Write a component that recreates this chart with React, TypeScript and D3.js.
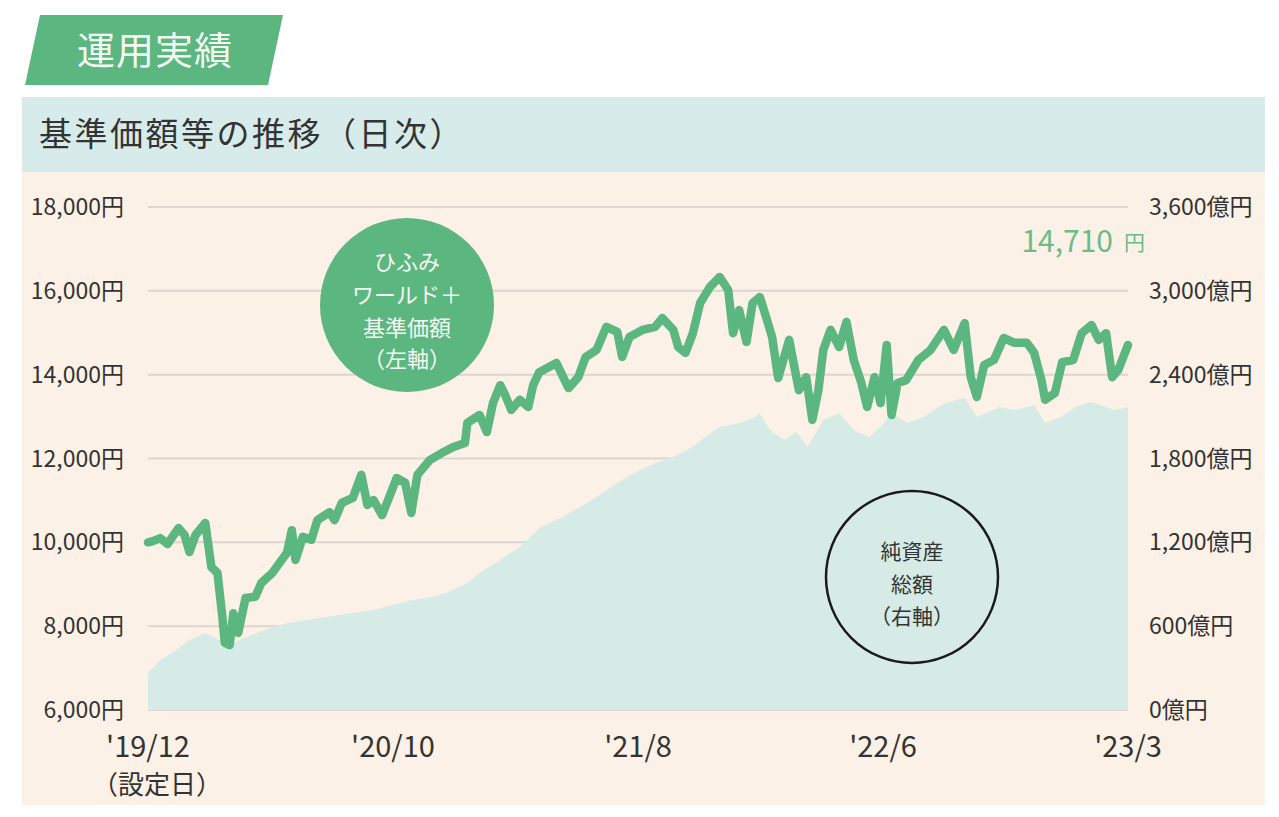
import React from "react";
import {scaleLinear, line, area} from "d3";

// 基準価額 (円) — trading-day index from 設定日
const navDays = [0, 4, 10, 16, 25, 30, 34, 39, 47, 52, 57, 61, 63, 67, 70, 74, 80, 88, 93, 102,
    108, 114, 118, 121, 127, 134, 139, 149, 153, 159, 168, 175, 180, 185, 192, 197, 204, 211, 216, 221,
    231, 241, 250, 260, 262, 272, 278, 283, 289, 293, 298, 305, 312, 316, 321, 335, 345, 353, 359, 368,
    376, 385, 389, 395, 406, 416, 422, 431, 435, 441, 447, 453, 461, 469, 476, 480, 485, 491, 496, 502,
    507, 512, 517, 526, 534, 540, 545, 550, 554, 560, 567, 573, 579, 585, 590, 596, 601, 606, 610, 615,
    622, 632, 642, 653, 661, 670, 675, 680, 686, 694, 702, 711, 721, 727, 733, 736, 744, 750, 759, 766,
    774, 780, 786, 791, 796, 804];
const navValues = [10000, 10030, 10100, 9960, 10340, 10175, 9770, 10175, 10460, 9410, 9270, 8220, 7600, 7550, 8310, 7840, 8670, 8700, 9030, 9270,
    9510, 9750, 10290, 9580, 10130, 10060, 10530, 10720, 10530, 10940, 11060, 11610, 10890, 11010, 10650, 11010, 11535, 11420, 10700, 11610,
    11960, 12130, 12270, 12370, 12850, 13040, 12630, 13320, 13750, 13515, 13160, 13400, 13230, 13750, 14060, 14280, 13680, 13940, 14420, 14590,
    15140, 15020, 14420, 14900, 15070, 15140, 15350, 15070, 14660, 14520, 14990, 15710, 16090, 16330, 16020, 14990, 15540, 14780, 15710, 15850,
    15380, 14900, 13920, 14830, 13630, 13940, 12920, 13630, 14590, 15070, 14660, 15260, 14350, 13830, 13230, 13940, 13320, 14710, 13040, 13800,
    13870, 14350, 14590, 15070, 14590, 15230, 13940, 13470, 14230, 14350, 14875, 14760, 14760, 14520, 13870, 13400, 13560, 14300, 14350, 14990,
    15185, 14830, 14990, 13940, 14110, 14710];

// 純資産総額 (億円)
const assetDays = [0, 10, 21, 34, 47, 55, 66, 75, 89, 103, 114, 130, 147, 168, 185, 201, 217, 229, 245, 262,
    272, 289, 305, 321, 340, 353, 368, 385, 400, 416, 431, 447, 457, 469, 485, 498, 502, 510, 522, 532,
    541, 554, 567, 579, 592, 604, 610, 623, 636, 654, 670, 680, 699, 711, 727, 736, 749, 761, 774, 786,
    793, 804];
const assetValues = [265, 358, 415, 501, 551, 515, 465, 501, 551, 594, 623, 644, 666, 694, 716, 751, 787, 802, 837, 909,
    980, 1074, 1167, 1303, 1381, 1446, 1524, 1625, 1703, 1768, 1811, 1882, 1954, 2025, 2054, 2097, 2126, 2004, 1932, 1990,
    1882, 2076, 2126, 2004, 1954, 2054, 2126, 2054, 2097, 2197, 2233, 2097, 2169, 2147, 2183, 2054, 2097, 2169, 2204, 2169,
    2147, 2169];

const xTickDays = [0, 201, 402, 603, 804];
const xTickLabels = ["'19/12", "'20/10", "'21/8", "'22/6", "'23/3"];
const leftTicks = [6000, 8000, 10000, 12000, 14000, 16000, 18000];
const rightTicks = [0, 600, 1200, 1800, 2400, 3000, 3600];

const FONT = "'Noto Sans CJK JP', 'Noto Sans', sans-serif";
const GREEN = "#5cb67f";

export default function App() {
    const width = 1279;
    const height = 817;
    const plotLeft = 148;
    const plotRight = 1128;
    const plotTop = 207;
    const plotBottom = 710;

    const x = scaleLinear().domain([0, 804]).range([plotLeft, plotRight]);
    const yL = scaleLinear().domain([6000, 18000]).range([plotBottom, plotTop]);
    const yR = scaleLinear().domain([0, 3600]).range([plotBottom, plotTop]);

    const navPath = line<number>()
        .x((d, i) => x(navDays[i]))
        .y((d) => yL(d))(navValues) || "";

    const assetPath = area<number>()
        .x((d, i) => x(assetDays[i]))
        .y0(plotBottom)
        .y1((d) => yR(d))(assetValues) || "";

    const fmt = (v: number) => v.toLocaleString("en-US");
    const lastNav = navValues[navValues.length - 1];

    return (
        <svg
            width={width}
            height={height}
            style={{position: "absolute", left: 0, top: 0, background: "#fff"}}
            fontFamily={FONT}
        >
            {/* header tab */}
            <polygon points="40,15 283,15 268,85 25,85" fill={GREEN} />
            <text x={155} y={64} fontSize={38} fill="#f3f8f2" textAnchor="middle" letterSpacing={1}>運用実績</text>

            {/* title bar */}
            <rect x={22} y={97} width={1243} height={75} fill="#d7ecea" />
            <text x={39} y={146} fontSize={33} fill="#333" letterSpacing={2.5}>基準価額等の推移（日次）</text>

            {/* chart panel */}
            <rect x={22} y={172} width={1243} height={633} fill="#fcf1e6" />

            {leftTicks.map((t) => (
                <line key={t} x1={plotLeft} x2={plotRight} y1={yL(t)} y2={yL(t)} stroke="#ddd6d0" strokeWidth={2} />
            ))}

            <path d={assetPath} fill="#d6ebe6" />
            <path d={navPath} fill="none" stroke={GREEN} strokeWidth={8.5} strokeLinejoin="round" strokeLinecap="round" />

            {leftTicks.map((t) => (
                <text key={t} x={124} y={yL(t) + 8} fontSize={23} fill="#333" textAnchor="end">{fmt(t)}円</text>
            ))}
            {rightTicks.map((t) => (
                <text key={t} x={1149} y={yR(t) + 8} fontSize={23} fill="#333">{fmt(t)}億円</text>
            ))}
            {xTickDays.map((d, i) => (
                <text key={d} x={x(d)} y={757} fontSize={29} fill="#333" textAnchor="middle">{xTickLabels[i]}</text>
            ))}
            <text x={157} y={794} fontSize={26} fill="#333" textAnchor="middle">（設定日）</text>

            {/* latest value */}
            <text x={1113} y={252} fontSize={30} fill="#6dbb88" textAnchor="end">{fmt(lastNav)}</text>
            <text x={1124} y={250} fontSize={21} fill="#6dbb88">円</text>

            {/* ひふみワールド+ label */}
            <circle cx={407} cy={305} r={87} fill={GREEN} />
            <g fontSize={22} fill="#f5f8f2" textAnchor="middle">
                <text x={407} y={270}>ひふみ</text>
                <text x={407} y={303}>ワールド＋</text>
                <text x={407} y={336}>基準価額</text>
                <text x={407} y={367}>（左軸）</text>
            </g>

            {/* 純資産総額 label */}
            <circle cx={912} cy={577} r={86} fill="none" stroke="#1a1a1a" strokeWidth={2.5} />
            <g fontSize={21} fill="#333" textAnchor="middle">
                <text x={912} y={559}>純資産</text>
                <text x={912} y={592}>総額</text>
                <text x={912} y={624}>（右軸）</text>
            </g>
        </svg>
    );
}
